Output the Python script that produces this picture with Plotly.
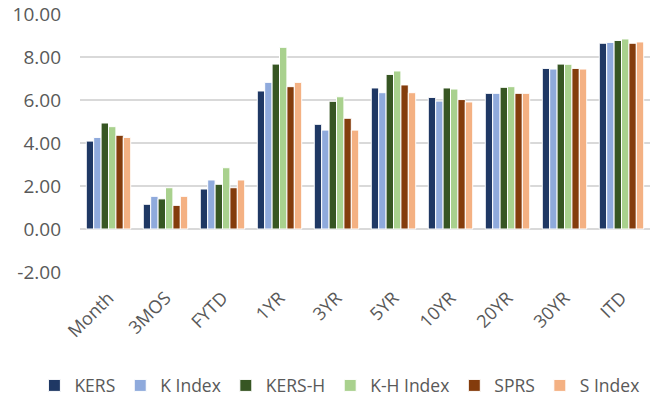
import plotly.graph_objects as go

categories = ["Month", "3MOS", "FYTD", "1YR", "3YR", "5YR", "10YR", "20YR", "30YR", "ITD"]
kers = [4.09, 1.15, 1.86, 6.42, 4.87, 6.56, 6.12, 6.31, 7.47, 8.64]
k_index = [4.26, 1.52, 2.28, 6.82, 4.60, 6.34, 5.95, 6.31, 7.44, 8.68]
kers_h = [4.93, 1.40, 2.08, 7.67, 5.94, 7.19, 6.56, 6.59, 7.67, 8.77]
kh_index = [4.76, 1.92, 2.85, 8.45, 6.15, 7.35, 6.51, 6.62, 7.66, 8.84]
sprs = [4.36, 1.10, 1.92, 6.62, 5.15, 6.70, 6.02, 6.31, 7.47, 8.64]
s_index = [4.26, 1.52, 2.28, 6.82, 4.60, 6.34, 5.91, 6.31, 7.44, 8.70]

ytick_values = [-2, 0, 2, 4, 6, 8, 10]
ytick_labels = ["-2.00", "0.00", "2.00", "4.00", "6.00", "8.00", "10.00"]

series = [
    ("KERS", kers, "#1F3864"),
    ("K Index", k_index, "#8FAADC"),
    ("KERS-H", kers_h, "#375623"),
    ("K-H Index", kh_index, "#A9D18E"),
    ("SPRS", sprs, "#843C0C"),
    ("S Index", s_index, "#F4B183"),
]

fig = go.Figure()
for name, vals, color in series:
    fig.add_trace(go.Bar(
        x=categories, y=vals, name=name,
        marker=dict(color=color, line=dict(color="white", width=1)),
    ))

font = "Open Sans, DejaVu Sans, sans-serif"
fig.update_layout(
    width=652, height=400,
    margin=dict(l=80, r=2, t=14, b=128, autoexpand=False),
    paper_bgcolor="white", plot_bgcolor="white",
    barmode="group", bargap=0.22, bargroupgap=0,
    font=dict(family=font, size=18, color="#595959"),
    showlegend=True,
    legend=dict(orientation="h", x=-0.08, xanchor="left", y=-0.44, yanchor="middle",
                font=dict(size=17.5, color="#595959"), itemwidth=30,
                tracegroupgap=0, traceorder="normal"),
    xaxis=dict(tickangle=-45, showgrid=False, showline=False, ticks="",
               ticklabelstandoff=11,
               tickfont=dict(size=18, color="#595959")),
    yaxis=dict(range=[-2, 10], tickmode="array", tickvals=ytick_values,
               ticktext=ytick_labels, showgrid=True,
               gridcolor="#D9D9D9", gridwidth=1.5, zeroline=True,
               zerolinecolor="#D9D9D9", zerolinewidth=1.5, ticks="",
               ticklabelstandoff=18,
               tickfont=dict(size=19, color="#595959")),
)

fig.write_html("out.html",
               config={"displayModeBar": False},
               post_script="document.body.style.margin='0px';document.body.style.overflow='hidden';")
